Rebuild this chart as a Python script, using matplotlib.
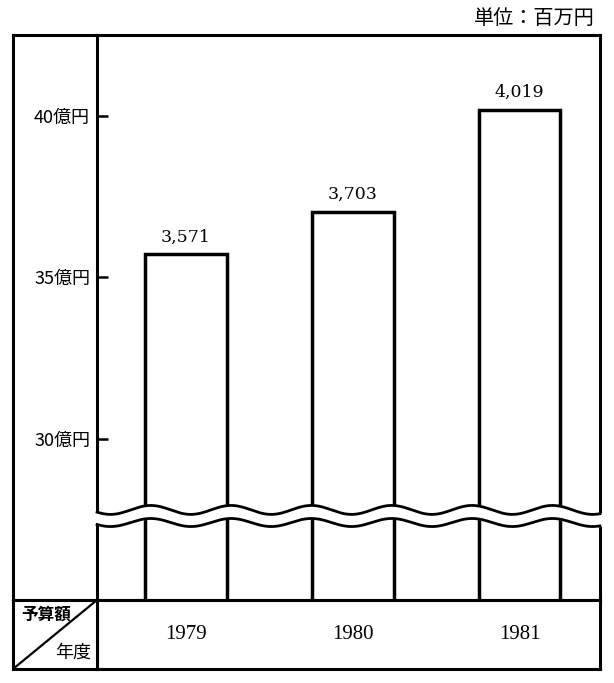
import numpy as np
import matplotlib
matplotlib.use('Agg')
import matplotlib.pyplot as plt

plt.rcParams['font.family'] = ['Noto Sans CJK JP', 'DejaVu Sans']

# data (単位: 百万円)
years = ['1979', '1980', '1981']
budget = [3571, 3703, 4019]
ytick_vals = [30, 35, 40]
ytick_labels = ['30億円', '35億円', '40億円']
unit_text = '単位：百万円'
row_label_top = '予算額'
row_label_bottom = '年度'

W, H = 614, 683


def rect(l, t, r, b):
    # pixel box -> figure fraction
    return [l / W, 1 - b / H, (r - l) / W, (b - t) / H]


fig = plt.figure(figsize=(W / 100, H / 100), dpi=100)

LW = 2.2
XL = (-0.534, 2.483)
YL = (25.0, 42.5)

# left label column (frame only)
ax_lab = fig.add_axes(rect(13, 35, 97, 600))
ax_lab.set_facecolor('none')
ax_lab.set_xticks([])
ax_lab.set_yticks([])
for s in ['right', 'bottom']:
    ax_lab.spines[s].set_visible(False)
for s in ['left', 'top']:
    ax_lab.spines[s].set_linewidth(LW)

# main chart
ax = fig.add_axes(rect(97, 35, 600, 600))
ax.set_facecolor('none')
x = np.arange(len(years))
vals = np.array(budget) / 100.0  # 億円
bars = ax.bar(x, vals, width=0.49, color='white', edgecolor='black',
              linewidth=2.5, zorder=2)
ax.bar_label(bars, labels=[f'{v:,}' for v in budget], padding=6,
             fontsize=12.5, family='DejaVu Serif')
ax.set_xlim(*XL)
ax.set_ylim(*YL)
ax.set_xticks([])
ax.set_yticks(ytick_vals)
ax.set_yticklabels(ytick_labels)
ax.tick_params(axis='y', direction='in', length=8, width=1.8, pad=5,
               labelsize=13)
for s in ax.spines.values():
    s.set_linewidth(LW)

# wavy break across the chart
period = 0.482
phase = -0.212
xs = np.linspace(XL[0] - 0.02, XL[1] + 0.02, 600)
wave = np.cos(2 * np.pi * (xs - phase) / period)
upper = 27.79 + 0.139 * wave
lower = 27.40 + 0.125 * wave
ax.fill_between(xs, lower, upper, color='white', zorder=5, clip_on=False)
m = (xs >= XL[0]) & (xs <= XL[1])
ax.plot(xs[m], upper[m], color='black', lw=2.0, zorder=6, clip_on=False)
ax.plot(xs[m], lower[m], color='black', lw=2.0, zorder=6, clip_on=False)

# bottom table: years
ax_tab = fig.add_axes(rect(97, 600, 600, 669))
ax_tab.set_xlim(*XL)
ax_tab.set_xticks([])
ax_tab.set_yticks([])
for s in ax_tab.spines.values():
    s.set_linewidth(LW)
for xi, yr in zip(x, years):
    ax_tab.text(xi, 0.5, yr, transform=ax_tab.get_xaxis_transform(),
                ha='center', va='center', fontsize=15, family='Liberation Serif')

# bottom-left header cell with diagonal
ax_cell = fig.add_axes(rect(13, 600, 97, 669))
ax_cell.set_xlim(0, 1)
ax_cell.set_ylim(0, 1)
ax_cell.set_xticks([])
ax_cell.set_yticks([])
for s in ax_cell.spines.values():
    s.set_linewidth(LW)
ax_cell.plot([0, 1], [0, 1], color='black', lw=1.6)
ax_cell.text(0.39, 0.78, row_label_top, ha='center', va='center',
             fontsize=12, fontweight='bold')
ax_cell.text(0.72, 0.24, row_label_bottom, ha='center', va='center',
             fontsize=13)

fig.text(595 / W, 1 - 19 / H, unit_text, ha='right', va='center',
         fontsize=14.5)

fig.savefig('out.png', dpi=100)
